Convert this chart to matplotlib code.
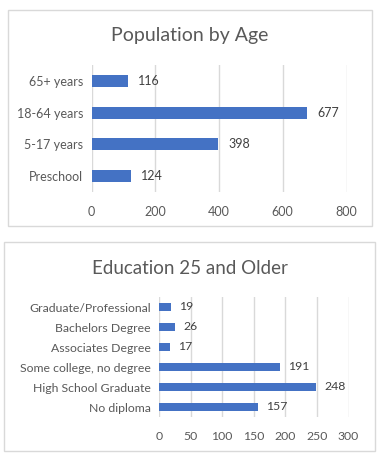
import matplotlib
matplotlib.use("Agg")
import matplotlib.pyplot as plt
from matplotlib.patches import Rectangle

plt.rcParams['font.family'] = ['Lato', 'DejaVu Sans']

age_cats = ["Preschool", "5-17 years", "18-64 years", "65+ years"]
age_vals = [124, 398, 677, 116]
age_ticks = [0, 200, 400, 600, 800]

edu_cats = ["No diploma", "High School Graduate", "Some college, no degree",
            "Associates Degree", "Bachelors Degree", "Graduate/Professional"]
edu_vals = [157, 248, 191, 17, 26, 19]
edu_ticks = [0, 50, 100, 150, 200, 250, 300]

W, H = 384, 458
fig = plt.figure(figsize=(W/100, H/100), dpi=100)
fig.patch.set_facecolor('white')

BAR = '#4472C4'
TXT = '#595959'
GRID = '#D9D9D9'

def box(x0, y0, x1, y1):
    fig.patches.append(Rectangle((x0/W, 1-y1/H), (x1-x0)/W, (y1-y0)/H,
                                 transform=fig.transFigure, fill=False,
                                 edgecolor=GRID, linewidth=1))

def panel(rect, cats, vals, ticks, bar_h, title, title_y, title_fs, fs_tick, lab_off):
    ax = fig.add_axes(rect)
    y = list(range(len(cats)))
    ax.barh(y, vals, height=bar_h, color=BAR)
    ax.set_xlim(ticks[0], ticks[-1])
    ax.set_ylim(-0.5, len(cats)-0.5)
    ax.set_yticks(y)
    ax.set_yticklabels(cats, fontsize=fs_tick, color=TXT)
    ax.set_xticks(ticks)
    ax.set_xticklabels([str(t) for t in ticks], fontsize=fs_tick, color=TXT)
    ax.tick_params(length=0)
    ax.tick_params(axis='x', pad=10)
    ax.tick_params(axis='y', pad=6)
    for s in ax.spines.values():
        s.set_visible(False)
    ax.xaxis.grid(True, color=GRID, linewidth=1)
    ax.set_axisbelow(True)
    for yi, v in zip(y, vals):
        ax.annotate(str(v), (v, yi), xytext=(lab_off, 0), textcoords='offset points',
                    va='center', ha='left', fontsize=fs_tick, color='#404040')
    fig.text(190/W, 1-title_y/H, title, ha='center', va='center',
             fontsize=title_fs, color=TXT)
    return ax

box(8, 10, 372, 226)
box(4, 242, 375, 451)

panel([91.5/W, 1-192/H, 255/W, 127/H], age_cats, age_vals, age_ticks, 0.38,
      "Population by Age", 36, 14, 9, 7)
panel([159/W, 1-417/H, 189.5/W, 120/H], edu_cats, edu_vals, edu_ticks, 0.36,
      "Education 25 and Older", 268, 13.5, 8.8, 6)

fig.savefig("out.png", dpi=100)
